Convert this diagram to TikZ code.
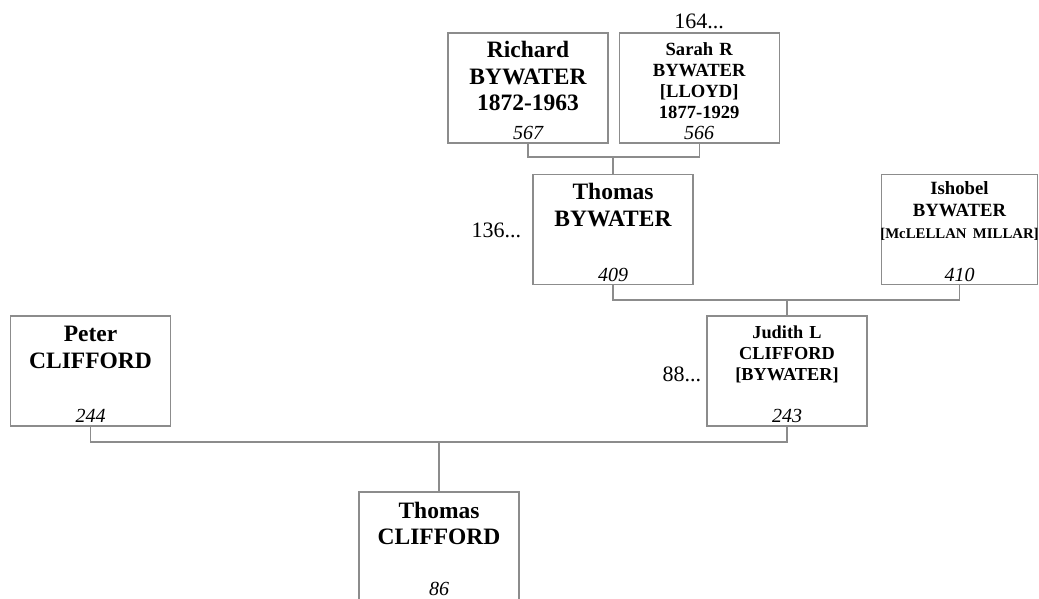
\documentclass[tikz,border=0pt]{standalone}
\usepackage{fontspec}
\setmainfont{Liberation Serif}
\usetikzlibrary{positioning}
\definecolor{boxline}{RGB}{140,140,140}
\tikzset{
  person/.style={draw=boxline, line width=1.2pt, minimum width=160pt, minimum height=110pt, inner sep=0pt},
  link/.style={draw=boxline, line width=1.2pt},
  bigname/.style={anchor=base, inner sep=0pt, text width=170pt, align=center, font=\bfseries\fontsize{23.5}{26.5}\selectfont},
  smallname/.style={anchor=base, inner sep=0pt, text width=170pt, align=center, font=\bfseries\fontsize{18.6}{20.8}\selectfont},
  refno/.style={anchor=base, inner sep=0pt, font=\itshape\fontsize{20}{20}\selectfont},
  moregen/.style={inner sep=0pt, font=\fontsize{22}{22}\selectfont}
}
\begin{document}
\begin{tikzpicture}[x=1pt, y=-1pt]
    \useasboundingbox (0,0) rectangle (1039,598);
    \clip (0,0) rectangle (1039,598);

    \node[person] (richard) at (528,88) {};
    \node[person, right=10pt of richard] (sarah) {};
    \node[person] (thomasb) at (613,229.5) {};
    \node[person, minimum width=156pt] (ishobel) at (959.5,229.5) {};
    \node[person] (peter) at (90.5,371) {};
    \node[person] (judith) at (787,371) {};
    \node[person] (thomasc) at (439,547) {};

    \node[bigname] (richardname) at ([yshift=-25.5pt]richard.north) {Richard\\BYWATER\\1872-1963};
    \node[smallname] (sarahname) at ([yshift=-23.5pt]sarah.north) {Sarah R\\BYWATER\\{[LLOYD]}\\1877-1929};
    \node[bigname] (thomasbname) at ([yshift=-26pt]thomasb.north) {Thomas\\BYWATER};
    \node[smallname, font=\bfseries\fontsize{18.7}{22}\selectfont] (ishobelname) at ([yshift=-21pt]ishobel.north)
      {Ishobel\\BYWATER\\{\fontsize{14.8}{22}\selectfont[McLELLAN MILLAR]}};
    \node[bigname] (petername) at ([yshift=-26.5pt]peter.north) {Peter\\CLIFFORD};
    \node[smallname, font=\bfseries\fontsize{18.3}{21}\selectfont] (judithname) at ([yshift=-23pt]judith.north)
      {Judith L\\CLIFFORD\\{[BYWATER]}};
    \node[bigname] (thomascname) at ([yshift=-27pt]thomasc.north) {Thomas\\CLIFFORD};

    \node[refno] (richardno) at ([yshift=4pt]richard.south) {567};
    \node[refno] (sarahno) at ([yshift=4pt]sarah.south) {566};
    \node[refno] (thomasbno) at ([yshift=4pt]thomasb.south) {409};
    \node[refno] (ishobelno) at ([yshift=4pt]ishobel.south) {410};
    \node[refno] (peterno) at ([yshift=4pt]peter.south) {244};
    \node[refno] (judithno) at ([yshift=4pt]judith.south) {243};
    \node[refno] (thomascno) at ([yshift=7.5pt]thomasc.south) {86};

    \node[moregen, anchor=base] (sarahmore) at ([yshift=3.5pt]sarah.north) {164...};
    \node[moregen, left=11pt of thomasb, yshift=-1pt] (thomasbmore) {136...};
    \node[moregen, left=5pt of judith, yshift=-3pt] (judithmore) {88...};

    \coordinate (bywaterfork) at (613,157);
    \coordinate (cliffordfork) at (787,300);
    \coordinate (childfork) at (439,442);

    \draw[link] (richard.south) |- (bywaterfork) -| (sarah.south);
    \draw[link] (bywaterfork) -- (thomasb.north);
    \draw[link] (thomasb.south) |- (cliffordfork) -| (ishobel.south);
    \draw[link] (cliffordfork) -- (judith.north);
    \draw[link] (peter.south) |- (childfork) -| (judith.south);
    \draw[link] (childfork) -- (thomasc.north);
\end{tikzpicture}
\end{document}
